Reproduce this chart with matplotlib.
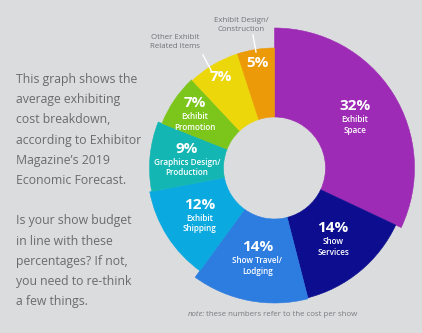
import numpy as np
import matplotlib
matplotlib.use("Agg")
import matplotlib.pyplot as plt
from matplotlib.patches import Wedge

# ---- data ----
categories = ["Exhibit\nSpace", "Show\nServices", "Show Travel/\nLodging", "Exhibit\nShipping",
              "Graphics Design/\nProduction", "Exhibit\nPromotion", "Other Exhibit\nRelated Items",
              "Exhibit Design/\nConstruction"]
values = [32, 14, 14, 12, 9, 7, 7, 5]
colors = ["#9e2bb5", "#0c0e8f", "#2d7de0", "#0aa9e0", "#14b6b3", "#7cc61c", "#ecd70a", "#ec9a08"]
outer_r = [140, 134, 135, 127, 125, 121, 120, 120]
label_r = [95, 92, 92, 89, 88, 96, 106, 106]
inside_label = [True, True, True, True, True, True, False, False]

body_text = ("This graph shows the\naverage exhibiting\ncost breakdown,\naccording to Exhibitor\n"
             "Magazine\u2019s 2019\nEconomic Forecast.\n\nIs your show budget\nin line with these\n"
             "percentages? If not,\nyou need to re-think\na few things.")

W, H = 422, 333
fig = plt.figure(figsize=(W / 100, H / 100), dpi=100)
bg = "#dbdcde"
fig.patch.set_facecolor(bg)
ax = fig.add_axes([0, 0, 1, 1])
ax.set_xlim(0, W)
ax.set_ylim(H, 0)
ax.set_facecolor(bg)
ax.axis("off")

cx, cy, r_in = 274.5, 168, 51
cum = np.concatenate([[0], np.cumsum(values)])
total = cum[-1]
for i, v in enumerate(values):
    a_start = 90 - cum[i + 1] / total * 360
    a_end = 90 - cum[i] / total * 360
    # y axis is inverted, so mirror angles
    w = Wedge((cx, cy), outer_r[i], -a_end, -a_start, width=outer_r[i] - r_in,
              facecolor=colors[i], edgecolor=colors[i], linewidth=0.4)
    ax.add_patch(w)
    mid = (cum[i] + v / 2) / total * 2 * np.pi
    lx = cx + label_r[i] * np.sin(mid)
    ly = cy - label_r[i] * np.cos(mid)
    if inside_label[i]:
        ax.text(lx, ly - 4, f"{v}%", ha="center", va="bottom", color="white",
                fontsize=11, fontweight="bold", family="Open Sans")
        ax.text(lx, ly - 2, categories[i], ha="center", va="top", color="white",
                fontsize=5.9, family="Open Sans", fontweight="semibold", linespacing=1.25)
    else:
        ax.text(lx, ly, f"{v}%", ha="center", va="center", color="white",
                fontsize=11, fontweight="bold", family="Open Sans")

# callouts for the two small outer labels
ax.plot([253, 256], [35, 52], color="white", lw=1)
ax.text(241, 25, categories[7], ha="center", va="center", color="#707275",
        fontsize=5.7, family="Open Sans", linespacing=1.25)
ax.plot([203, 212], [55, 72], color="white", lw=1)
ax.text(175, 42, categories[6], ha="center", va="center", color="#707275",
        fontsize=5.7, family="Open Sans", linespacing=1.25)

ax.text(16, 73, body_text, ha="left", va="top", color="#6a6b6d",
        fontsize=8.8, family="Open Sans", linespacing=1.72)

ax.text(188, 315, "note:", ha="left", va="center", color="#7a7b7e",
        fontsize=5.7, family="Open Sans", style="italic")
ax.text(206, 315, "these numbers refer to the cost per show", ha="left", va="center",
        color="#7a7b7e", fontsize=5.7, family="Open Sans")

fig.savefig("out.png", dpi=100, facecolor=bg)
